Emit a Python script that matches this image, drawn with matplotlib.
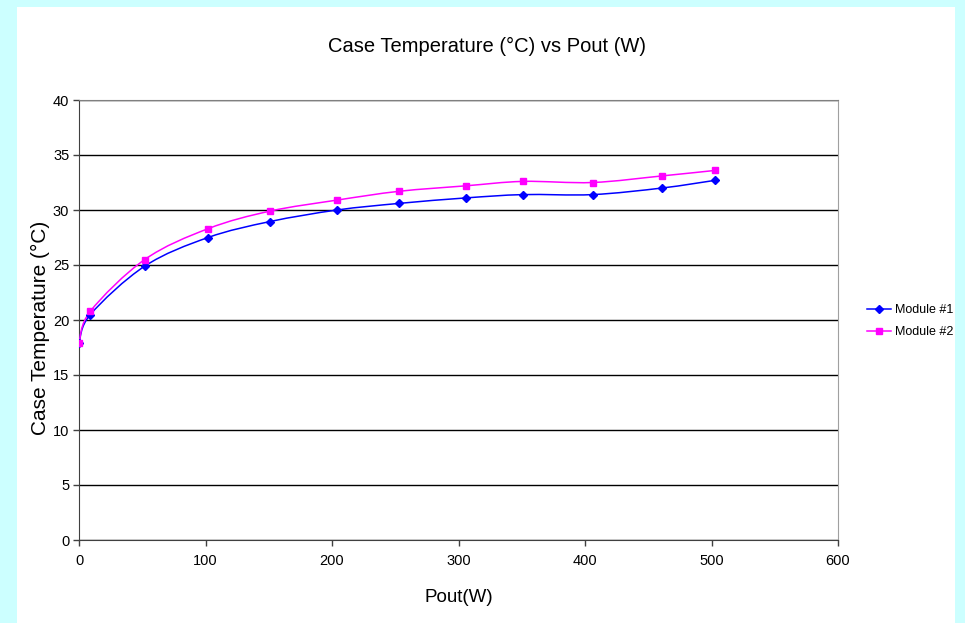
import numpy as np
import matplotlib.pyplot as plt
from matplotlib.path import Path
from matplotlib.patches import PathPatch, Rectangle
from matplotlib.lines import Line2D

plt.rcParams['font.family'] = ['Liberation Sans', 'DejaVu Sans']

# data
pout = [0, 9, 52, 102, 151, 204, 253, 306, 351, 406, 461, 503]
module1 = [17.9, 20.5, 24.9, 27.5, 28.95, 30.0, 30.6, 31.1, 31.4, 31.4, 32.0, 32.7]
module2 = [17.9, 20.8, 25.5, 28.3, 29.9, 30.9, 31.7, 32.2, 32.6, 32.5, 33.1, 33.6]
series_names = ['Module #1', 'Module #2']
series_colors = ['#0000FF', '#FF00FF']
series_markers = ['D', 's']


def smooth_path(x, y):
    # Excel-style smoothed line: cubic Bezier through every point
    pts = np.column_stack([x, y]).astype(float)
    n = len(pts)
    verts = [pts[0]]
    codes = [Path.MOVETO]
    for i in range(n - 1):
        p0 = pts[i - 1] if i > 0 else pts[i]
        p1 = pts[i]
        p2 = pts[i + 1]
        p3 = pts[i + 2] if i + 2 < n else pts[i + 1]
        c1 = p1 + (p2 - p0) / 6.0
        c2 = p2 - (p3 - p1) / 6.0
        verts += [c1, c2, p2]
        codes += [Path.CURVE4] * 3
    return Path(verts, codes)


fig = plt.figure(figsize=(9.65, 6.23), dpi=100)
fig.patch.set_facecolor('#CCFFFF')
fig.patches.append(Rectangle((17 / 965, 0), (955 - 17) / 965, 1 - 7 / 623,
                             transform=fig.transFigure, facecolor='white',
                             edgecolor='none', zorder=-10))

ax = fig.add_axes([79 / 965, 1 - 540 / 623, (838 - 79) / 965, (540 - 100) / 623])
ax.set_facecolor('white')

for ys, name, col, mk in zip([module1, module2], series_names, series_colors, series_markers):
    patch = PathPatch(smooth_path(pout, ys), facecolor='none', edgecolor=col,
                      linewidth=1.1, zorder=3)
    ax.add_patch(patch)
    ax.plot(pout, ys, linestyle='none', marker=mk, color=col,
            markersize=5 if mk == 's' else 4.5, zorder=4)

ax.set_xlim(0, 600)
ax.set_ylim(0, 40)
ax.set_xticks(np.arange(0, 601, 100))
ax.set_yticks(np.arange(0, 41, 5))
ax.yaxis.grid(True, color='black', linewidth=1)
ax.set_axisbelow(True)
ax.spines['right'].set_color('#A0A0A0')
ax.spines['top'].set_color('#808080')
for s in ['left', 'bottom']:
    ax.spines[s].set_color('#404040')
ax.tick_params(direction='out', length=4, width=1, color='#404040',
               labelsize=10.5)
ax.tick_params(axis='x', pad=6)
ax.tick_params(axis='y', pad=3)

ax.set_xlabel('Pout(W)', fontsize=13.5)
ax.xaxis.set_label_coords(0.5, -(597 - 540) / 440)
ax.xaxis.label.set_va('center')
ax.set_ylabel('Case Temperature (°C)', fontsize=15)
ax.yaxis.set_label_coords(-(79 - 50) / 759, (540 - 328) / 440)
fig.text(487 / 965, 1 - 46 / 623, 'Case Temperature (°C) vs Pout (W)',
         fontsize=14.5, ha='center', va='center')

handles = [Line2D([0], [0], color=c, marker=m, markersize=4.5, linewidth=1.1)
           for c, m in zip(series_colors, series_markers)]
fig.legend(handles, series_names, loc='center left',
           bbox_to_anchor=(856 / 965, 1 - 321 / 623), frameon=False,
           fontsize=9, handlelength=1.9, handletextpad=0.3, labelspacing=0.8)

fig.savefig('out.png', dpi=100, facecolor=fig.get_facecolor())
